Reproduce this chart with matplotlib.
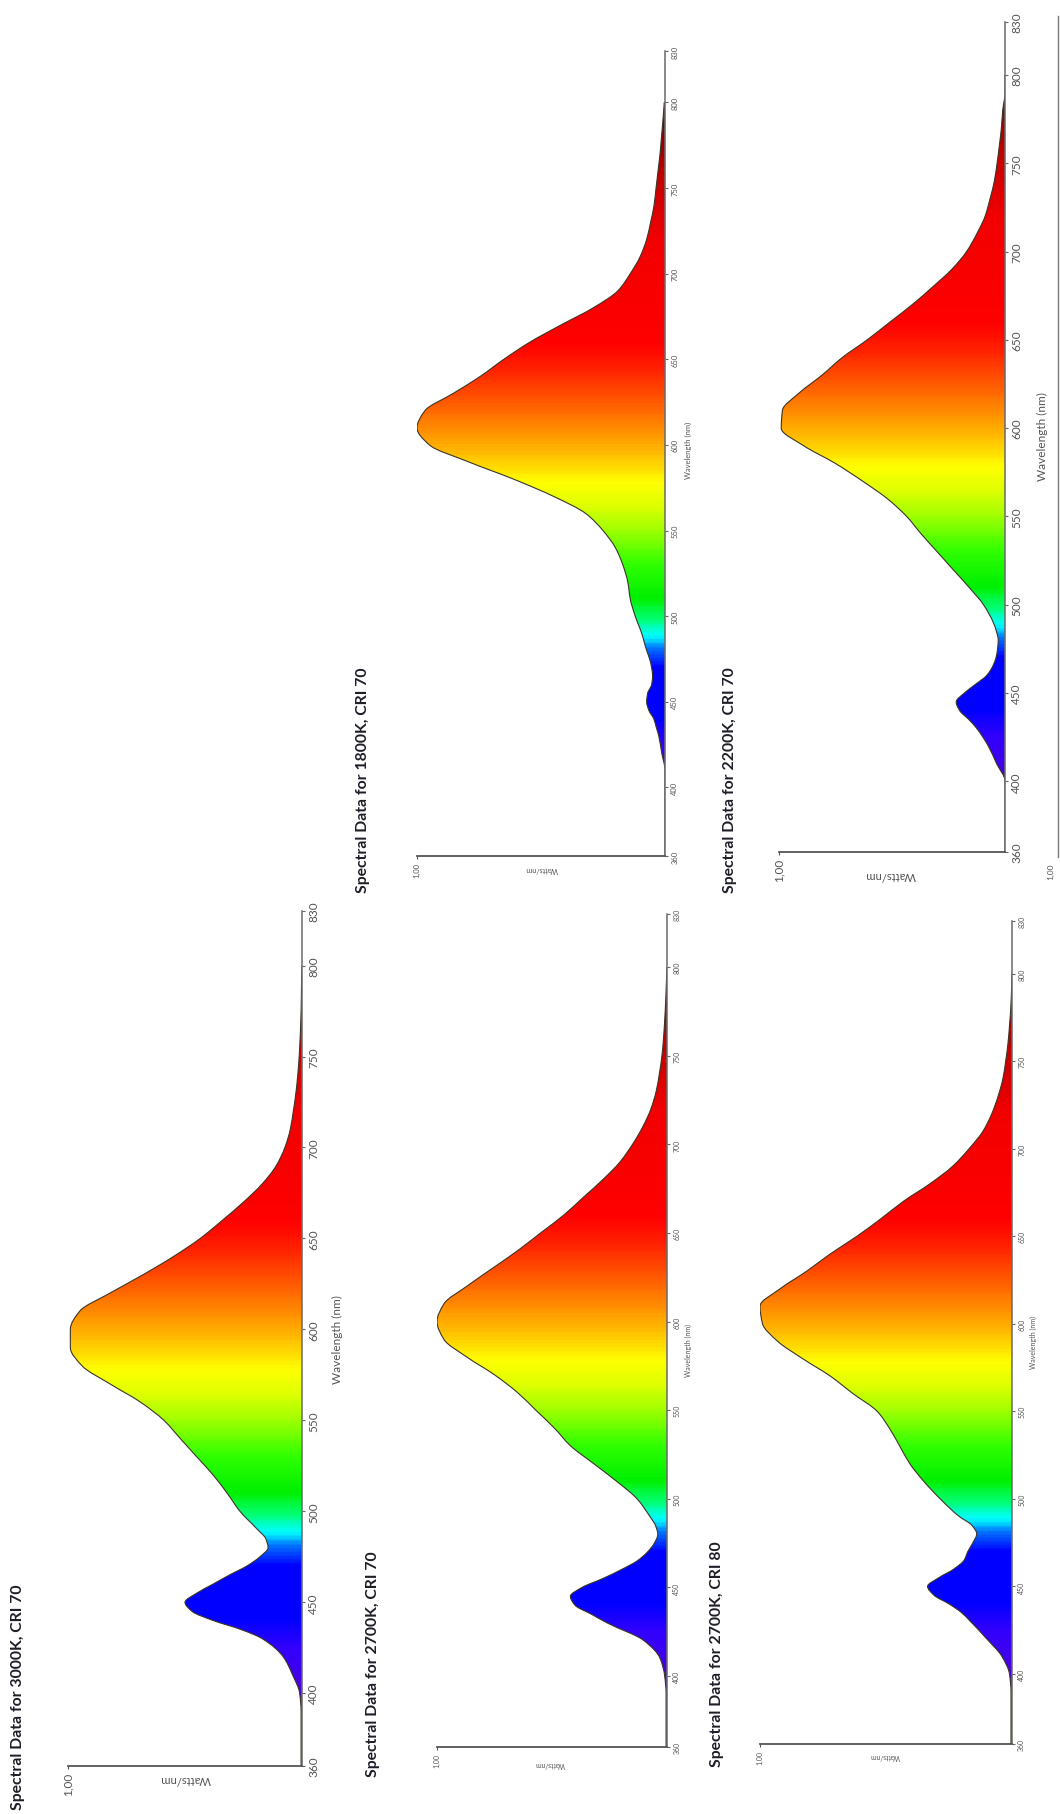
#!/usr/bin/env python3
'''
Spectral power distributions for five LED colour temperatures, drawn the
way they sit on the scanned datasheet page: the page is turned 90 deg, so
wavelength runs up the page and Watts/nm grows to the left.

Usage:

    python3 plot.py      -> writes out.png
'''

import numpy as np
import matplotlib
matplotlib.use('Agg')
import matplotlib.pyplot as plt
from matplotlib.patches import PathPatch
from matplotlib.path import Path
from matplotlib.colors import LinearSegmentedColormap
from matplotlib.lines import Line2D

plt.rcParams['font.family'] = ['Lato', 'DejaVu Sans']

W, H = 1060, 1815   #output size in pixels (dpi 100)

#-------------
#the data: relative Watts/nm, 1.00 = peak of each chart
#-------------

wavelength = [360, 370, 380, 390, 400, 410, 420, 430, 435, 440, 445, 450, 455,
              460, 465, 470, 475, 480, 485, 490, 500, 510, 520, 530, 540, 550,
              560, 570, 580, 590, 600, 610, 620, 630, 640, 650, 660, 670, 680,
              690, 700, 710, 720, 730, 740, 750, 760, 770, 780, 790, 800]

spd_3000k_cri70 = [0.004, 0.004, 0.004, 0.004, 0.01, 0.04, 0.08, 0.17, 0.26,
                   0.38, 0.47, 0.50, 0.45, 0.38, 0.31, 0.235, 0.18, 0.145,
                   0.155, 0.19, 0.265, 0.32, 0.38, 0.45, 0.52, 0.59, 0.69,
                   0.82, 0.94, 0.99, 0.99, 0.95, 0.82, 0.68, 0.55, 0.435,
                   0.34, 0.25, 0.17, 0.11, 0.073, 0.05, 0.037, 0.026, 0.018,
                   0.012, 0.008, 0.005, 0.003, 0.002, 0.0]

spd_2700k_cri70 = [0.004, 0.004, 0.004, 0.004, 0.01, 0.03, 0.10, 0.26, 0.33,
                   0.40, 0.42, 0.37, 0.28, 0.20, 0.13, 0.085, 0.055, 0.04,
                   0.05, 0.074, 0.13, 0.22, 0.32, 0.42, 0.49, 0.57, 0.65,
                   0.75, 0.87, 0.97, 1.0, 0.97, 0.87, 0.76, 0.65, 0.55,
                   0.45, 0.365, 0.28, 0.205, 0.15, 0.105, 0.07, 0.047, 0.033,
                   0.022, 0.015, 0.01, 0.006, 0.003, 0.0]

spd_2700k_cri80 = [0.004, 0.004, 0.004, 0.004, 0.01, 0.04, 0.10, 0.165, 0.20,
                   0.25, 0.31, 0.335, 0.29, 0.23, 0.19, 0.175, 0.155, 0.14,
                   0.16, 0.21, 0.285, 0.35, 0.405, 0.445, 0.485, 0.535, 0.63,
                   0.72, 0.83, 0.93, 0.99, 1.0, 0.92, 0.815, 0.72, 0.615,
                   0.52, 0.43, 0.325, 0.235, 0.17, 0.115, 0.08, 0.055, 0.036,
                   0.025, 0.016, 0.01, 0.005, 0.002, 0.0]

spd_1800k_cri70 = [0.0, 0.0, 0.0, 0.0, 0.0, 0.0, 0.013, 0.025, 0.035, 0.045,
                   0.065, 0.074, 0.07, 0.054, 0.05, 0.054, 0.062, 0.074,
                   0.084, 0.094, 0.12, 0.14, 0.15, 0.17, 0.20, 0.25, 0.32,
                   0.45, 0.61, 0.79, 0.95, 1.0, 0.968, 0.855, 0.745, 0.65,
                   0.545, 0.42, 0.29, 0.19, 0.14, 0.10, 0.074, 0.058, 0.044,
                   0.036, 0.028, 0.02, 0.014, 0.008, 0.003]

spd_2200k_cri70 = [0.0, 0.0, 0.0, 0.0, 0.0, 0.037, 0.074, 0.125, 0.16, 0.20,
                   0.216, 0.18, 0.13, 0.081, 0.055, 0.04, 0.033, 0.03, 0.038,
                   0.052, 0.095, 0.16, 0.23, 0.30, 0.37, 0.435, 0.52, 0.63,
                   0.75, 0.89, 0.99, 0.985, 0.91, 0.81, 0.72, 0.61, 0.51,
                   0.41, 0.32, 0.235, 0.17, 0.125, 0.088, 0.066, 0.047, 0.035,
                   0.025, 0.016, 0.01, 0.0, 0.0]

titles = ['Spectral Data for 3000K, CRI 70',
          'Spectral Data for 2700K, CRI 70',
          'Spectral Data for 2700K, CRI 80',
          'Spectral Data for 1800K, CRI 70',
          'Spectral Data for 2200K, CRI 70']

wl_ticks = [360, 400, 450, 500, 550, 600, 650, 700, 750, 800, 830]

#colour of the fill along the spectrum
spectrum_nm = [360, 400, 425, 440, 470, 480, 488, 498, 510, 530, 550, 565,
               578, 592, 605, 625, 645, 660, 720, 760, 800, 830]
spectrum_colors = ['#50108a', '#4a00e0', '#3000ff', '#0000ff', '#0000ff',
                   '#0070ff', '#00ffff', '#00ff70', '#00f000', '#30ff00',
                   '#a0ff00', '#e0ff00', '#ffff00', '#ffc800', '#ff9a00',
                   '#ff5a00', '#ff2000', '#ff0000', '#f20000', '#c00000',
                   '#600000', '#500000']

#-------------
#page layout, pixel coordinates on the page (y measured down from the top)
#-------------

# x at 1.00, x at 0 (baseline), y at 360 nm, y at 830 nm
axes_px = [(68, 302, 1767, 912),
           (437, 667, 1748, 915),
           (760, 1012, 1745, 922),
           (417, 665, 857, 52),
           (779, 1005, 853, 23)]

tick_fs  = [8.5, 5.0, 5.0, 5.5, 8.5]
title_px = [(18, 1810), (373, 1777), (717, 1767), (363, 893), (730, 893)]
wave_px  = [(337, 1340), (688, 1350), (1033, 1342), (688, 450), (1042, 437)]
watts_px = [(185, 1780), (550, 1765), (885, 1757), (542, 870), (890, 876)]


def px(x, y):
    '''page pixels -> figure fraction'''
    return x / W, 1.0 - y / H


def spectrum_image():
    '''one column of colours, 1 px per nm from 360 to 830'''
    stops = [(nm - 360) / (830 - 360) for nm in spectrum_nm]
    cmap = LinearSegmentedColormap.from_list('spec', list(zip(stops, spectrum_colors)))
    return cmap(np.linspace(0, 1, 471))[:, None, :]


def smooth_path(wl, val, closed=False):
    '''
    Bezier path through the read-off points (monotone cubic Hermite,
    Fritsch-Carlson slopes so the peaks don't overshoot). Only the drawing
    is smoothed, the points themselves are the data.
    '''
    h = np.diff(wl)
    d = np.diff(val) / h
    m = np.zeros_like(val)
    m[0], m[-1] = d[0], d[-1]
    for k in range(1, len(val) - 1):
        if d[k - 1] * d[k] <= 0:
            m[k] = 0.0
        else:
            w1 = 2 * h[k] + h[k - 1]
            w2 = h[k] + 2 * h[k - 1]
            m[k] = (w1 + w2) / (w1 / d[k - 1] + w2 / d[k])

    verts = [(val[0], wl[0])]
    codes = [Path.MOVETO]
    for k in range(len(val) - 1):
        verts += [(val[k] + m[k] * h[k] / 3, wl[k] + h[k] / 3),
                  (val[k + 1] - m[k + 1] * h[k] / 3, wl[k + 1] - h[k] / 3),
                  (val[k + 1], wl[k + 1])]
        codes += [Path.CURVE4] * 3
    if closed:
        verts += [(0.0, wl[-1]), (0.0, wl[0]), (val[0], wl[0])]
        codes += [Path.LINETO, Path.LINETO, Path.CLOSEPOLY]
    return Path(verts, codes)


def draw_chart(fig, i, spd):
    xt, xb, y0, y1 = axes_px[i]
    rect = [xt / W, 1 - y0 / H, (xb - xt) / W, (y0 - y1) / H]
    ax = fig.add_axes(rect)

    wl = np.array(wavelength, dtype=float)
    val = np.array(spd, dtype=float)

    #gradient fill clipped to the curve
    area = PathPatch(smooth_path(wl, val, closed=True), facecolor='none',
                     edgecolor='none')
    ax.add_patch(area)
    im = ax.imshow(spectrum_image(), extent=[0, 1, 360, 830], origin='lower',
                   aspect='auto', interpolation='bilinear')
    im.set_clip_path(area)
    ax.add_patch(PathPatch(smooth_path(wl, val), facecolor='none',
                           edgecolor='#3b3526', lw=0.8))

    ax.set_xlim(1.0, 0.0)
    ax.set_ylim(360, 830)

    for side in ['top', 'left']:
        ax.spines[side].set_visible(False)
    ax.spines['bottom'].set_color('#555555')
    ax.spines['bottom'].set_linewidth(1.3)
    ax.spines['right'].set_color('#6a6a6a')
    ax.spines['right'].set_linewidth(1.1)

    fs = tick_fs[i]
    ax.yaxis.tick_right()
    ax.set_yticks(wl_ticks)
    ax.set_yticklabels([str(t) for t in wl_ticks])
    ax.tick_params(axis='y', direction='out', length=2.5, width=0.8,
                   color='#666666', labelcolor='#555555', labelsize=fs, pad=2)
    for lbl in ax.get_yticklabels():
        lbl.set_rotation(90)
        lbl.set_va('center')
        lbl.set_ha('left')

    ax.set_xticks([1.0])
    ax.set_xticklabels(['1,00'])
    ax.tick_params(axis='x', direction='out', length=2.5, width=0.8,
                   color='#555555', labelcolor='#555555', labelsize=fs, pad=2)
    for lbl in ax.get_xticklabels():
        lbl.set_rotation(90)

    #axis titles, placed where they are on the sheet
    fig.text(*px(*wave_px[i]), 'Wavelength (nm)', rotation=90, ha='center',
             va='center', fontsize=fs, color='#555555')
    fig.text(*px(*watts_px[i]), 'Watts/nm', rotation=180, ha='center',
             va='center', fontsize=fs * 0.95, color='#555555')
    fig.text(*px(*title_px[i]), titles[i], rotation=90, ha='center',
             va='bottom', fontsize=11.3, fontweight='bold', color='#1e1e28')
    return ax


def main():
    fig = plt.figure(figsize=(W / 100, H / 100), dpi=100)
    fig.patch.set_facecolor('white')

    all_spd = [spd_3000k_cri70, spd_2700k_cri70, spd_2700k_cri80,
               spd_1800k_cri70, spd_2200k_cri70]
    for i, spd in enumerate(all_spd):
        draw_chart(fig, i, spd)

    #the next chart on the sheet is cut off at the right edge
    x, ya = px(1058, 17)
    _, yb = px(1058, 858)
    fig.add_artist(Line2D([x, x], [ya, yb], color='#777777', lw=1.0))
    fig.text(*px(1051, 872), '1,00', rotation=90, ha='center', va='center',
             fontsize=6, color='#555555')

    fig.savefig('out.png', dpi=100, facecolor='white')
    plt.close(fig)


if __name__ == '__main__':
    main()
